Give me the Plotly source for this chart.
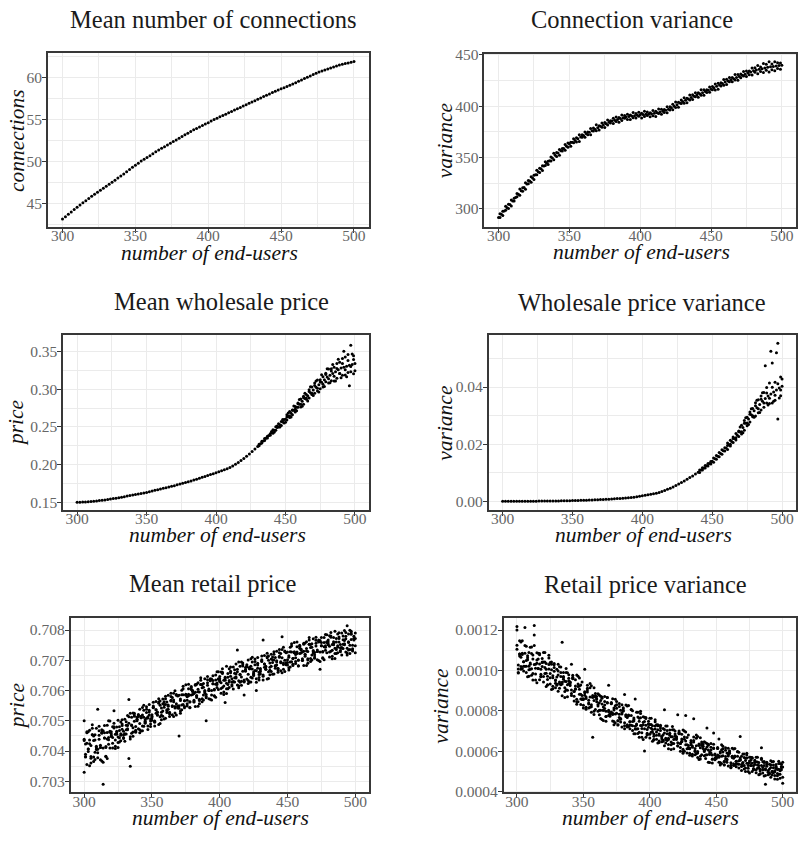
import plotly.graph_objects as go

W, H = 798, 841

# ---------------- data ----------------
x_even = list(range(300, 501, 2))      # 101 values
x_odd = list(range(301, 500, 2))       # 100 values
x_all = list(range(300, 501))          # 201 values

# Mean number of connections
conn_mean = [43.20, 43.48, 43.76, 44.04, 44.32, 44.60, 44.86, 45.12, 45.38, 45.64,
             45.90, 46.14, 46.38, 46.62, 46.86, 47.10, 47.34, 47.58, 47.82, 48.06,
             48.30, 48.56, 48.82, 49.08, 49.34, 49.60, 49.84, 50.08, 50.30, 50.52,
             50.72, 50.96, 51.18, 51.40, 51.60, 51.80, 52.00, 52.20, 52.40, 52.60,
             52.80, 53.00, 53.20, 53.40, 53.60, 53.80, 53.96, 54.12, 54.30, 54.48,
             54.65, 54.83, 55.01, 55.18, 55.34, 55.50, 55.66, 55.82, 55.98, 56.14,
             56.30, 56.46, 56.62, 56.78, 56.94, 57.10, 57.26, 57.42, 57.58, 57.74,
             57.90, 58.06, 58.22, 58.38, 58.52, 58.66, 58.80, 58.94, 59.08, 59.24,
             59.40, 59.56, 59.72, 59.88, 60.04, 60.20, 60.36, 60.52, 60.66, 60.78,
             60.90, 61.02, 61.14, 61.26, 61.38, 61.50, 61.58, 61.66, 61.74, 61.82,
             61.90]

# Connection variance
convar_mid = [291.4, 294.6, 297.8, 301.0, 304.2, 307.5, 310.8, 314.1, 317.4, 320.7,
              324.0, 327.0, 330.0, 333.0, 336.0, 339.0, 341.6, 344.2, 346.8, 349.4,
              352.0, 354.2, 356.4, 358.6, 360.8, 363.0, 364.7, 366.4, 368.1, 369.8,
              371.5, 373.0, 374.5, 376.0, 377.5, 379.0, 380.3, 381.6, 382.9, 384.2,
              385.5, 386.3, 387.1, 387.9, 388.7, 389.5, 389.9, 390.3, 390.7, 391.1,
              391.5, 391.8, 392.1, 392.4, 392.7, 393.0, 393.6, 394.3, 395.1, 396.0,
              397.0, 398.4, 399.9, 401.4, 403.0, 404.5, 405.8, 407.1, 408.4, 409.7,
              411.0, 412.1, 413.2, 414.3, 415.4, 416.5, 417.9, 419.3, 420.7, 422.1,
              423.5, 424.6, 425.7, 426.8, 427.9, 429.0, 430.1, 431.2, 432.3, 433.4,
              434.5, 435.2, 435.9, 436.6, 437.3, 438.0, 438.4, 438.8, 439.2, 439.6,
              440.0]
convar_hi = [295.1, 297.4, 302.4, 304.3, 308.5, 310.1, 314.8, 319.1, 320.5, 325.2,
             327.4, 331.2, 332.6, 337.6, 339.5, 341.8, 345.8, 346.3, 350.5, 354.1,
             354.7, 357.8, 358.8, 362.7, 364.1, 364.9, 368.3, 369.1, 372.2, 372.1,
             374.7, 374.9, 378.2, 378.8, 381.8, 381.0, 383.6, 384.0, 386.6, 385.8,
             388.1, 389.5, 389.0, 391.4, 391.0, 392.2, 391.3, 393.8, 392.9, 394.0,
             393.1, 395.0, 394.4, 393.6, 395.7, 395.0, 397.2, 397.0, 396.8, 399.4,
             399.5, 401.8, 404.1, 403.7, 406.0, 408.1, 407.8, 410.9, 411.1, 413.0,
             413.2, 416.0, 416.0, 416.0, 418.8, 419.1, 421.6, 422.4, 422.8, 426.0,
             426.2, 427.9, 427.9, 430.8, 430.8, 431.4, 433.7, 434.3, 434.4, 437.3,
             437.5, 439.7, 438.3, 441.6, 440.8, 443.4, 441.0, 443.4, 442.4, 442.0]
convar_lo = [291.4, 293.3, 298.4, 300.2, 302.7, 307.4, 311.7, 313.1, 317.1, 319.0,
             324.2, 325.9, 328.5, 333.0, 335.3, 337.2, 342.0, 343.0, 346.4, 347.8,
             351.0, 352.0, 356.3, 357.1, 360.0, 360.9, 364.2, 365.0, 365.5, 369.6,
             369.6, 372.0, 372.1, 375.8, 375.9, 376.8, 379.5, 379.2, 381.6, 383.6,
             383.1, 385.1, 384.2, 386.1, 388.1, 387.1, 387.1, 388.8, 388.4, 390.1,
             388.5, 390.0, 390.9, 389.7, 390.7, 389.9, 392.9, 392.1, 393.7, 393.5,
             396.2, 396.5, 398.6, 398.9, 402.5, 402.8, 403.4, 406.0, 406.5, 409.2,
             408.7, 410.7, 410.6, 413.3, 413.5, 416.1, 415.8, 416.6, 419.7, 420.5,
             421.1, 423.8, 423.7, 425.5, 425.3, 427.6, 429.4, 428.9, 430.7, 430.5,
             433.1, 431.7, 433.9, 432.8, 435.0, 433.4, 435.5, 434.5, 436.8, 436.1]

# Mean wholesale price
ws_mean = [0.1500, 0.1501, 0.1502, 0.1504, 0.1507, 0.1510, 0.1513, 0.1517, 0.1521, 0.1525,
           0.1530, 0.1536, 0.1542, 0.1548, 0.1554, 0.1560, 0.1567, 0.1574, 0.1581, 0.1588,
           0.1595, 0.1602, 0.1609, 0.1616, 0.1623, 0.1630, 0.1639, 0.1648, 0.1657, 0.1666,
           0.1675, 0.1684, 0.1693, 0.1702, 0.1711, 0.1720, 0.1730, 0.1740, 0.1750, 0.1760,
           0.1770, 0.1782, 0.1794, 0.1806, 0.1818, 0.1830, 0.1842, 0.1854, 0.1866, 0.1878,
           0.1890, 0.1903, 0.1916, 0.1930, 0.1944, 0.1960, 0.1980, 0.2002, 0.2026, 0.2052,
           0.2080, 0.2110, 0.2141, 0.2173, 0.2206, 0.2240, 0.2276, 0.2312, 0.2348, 0.2384,
           0.2420, 0.2456, 0.2492, 0.2528, 0.2564, 0.2600, 0.2640, 0.2680, 0.2720, 0.2760,
           0.2800, 0.2838, 0.2876, 0.2914, 0.2952, 0.2990, 0.3024, 0.3058, 0.3092, 0.3126,
           0.3160, 0.3184, 0.3208, 0.3232, 0.3256, 0.3280, 0.3292, 0.3304, 0.3316, 0.3328,
           0.3340]
ws_odd_x = list(range(431, 500, 2))    # 35 values
ws_rep1 = [0.2270, 0.2286, 0.2345, 0.2353, 0.2408, 0.2463, 0.2456, 0.2540, 0.2519, 0.2596,
           0.2660, 0.2625, 0.2722, 0.2696, 0.2818, 0.2764, 0.2905, 0.2865, 0.2993, 0.2929,
           0.3082, 0.2977, 0.3125, 0.3029, 0.3211, 0.3267, 0.3111, 0.3290, 0.3144, 0.3356,
           0.3406, 0.3188, 0.3460, 0.3232, 0.3444]
ws_rep2 = [0.2248, 0.2308, 0.2318, 0.2375, 0.2387, 0.2416, 0.2502, 0.2498, 0.2570, 0.2552,
           0.2590, 0.2702, 0.2660, 0.2770, 0.2760, 0.2869, 0.2799, 0.2930, 0.2883, 0.3029,
           0.2947, 0.3121, 0.3005, 0.3164, 0.3098, 0.3082, 0.3271, 0.3110, 0.3340, 0.3208,
           0.3186, 0.3428, 0.3220, 0.3582, 0.3204]
ws_even_x = list(range(440, 501, 2))   # 31 values
ws_rep3 = [0.2438, 0.2431, 0.2512, 0.2498, 0.2599, 0.2562, 0.2685, 0.2630, 0.2775, 0.2712,
           0.2862, 0.2773, 0.2946, 0.2842, 0.3032, 0.2915, 0.3109, 0.2963, 0.3192, 0.3036,
           0.3270, 0.3084, 0.3328, 0.3107, 0.3396, 0.3150, 0.3502, 0.3164, 0.3046, 0.3468,
           0.3245]
ws_odd_x2 = list(range(451, 500, 2))   # 25 values
ws_rep4 = [0.2630, 0.2645, 0.2720, 0.2732, 0.2805, 0.2799, 0.2887, 0.2883, 0.2968, 0.2946,
           0.3047, 0.3011, 0.3095, 0.3064, 0.3193, 0.3137, 0.3241, 0.3170, 0.3274, 0.3208,
           0.3341, 0.3258, 0.3380, 0.3302, 0.3394]

# Wholesale price variance, in units of 1e-5
wv_mean_e5 = [0, 0, 1, 1, 1, 2, 2, 3, 3, 4,
              5, 5, 6, 7, 8, 9, 10, 11, 12, 14,
              15, 17, 19, 21, 23, 25, 28, 31, 34, 37,
              40, 44, 48, 52, 56, 60, 65, 70, 76, 82,
              88, 95, 102, 110, 118, 126, 135, 145, 160, 175,
              195, 210, 228, 245, 262, 280, 310, 345, 380, 420,
              460, 505, 555, 605, 655, 710, 770, 830, 890, 955,
              1020, 1095, 1170, 1245, 1320, 1400, 1490, 1580, 1675, 1770,
              1870, 1980, 2090, 2200, 2315, 2430, 2580, 2730, 2880, 3030,
              3170, 3280, 3390, 3500, 3600, 3690, 3760, 3830, 3900, 3970,
              4030]
wv_odd_x = list(range(441, 500, 2))    # 30 values
wv_rep1_e5 = [1098, 1098, 1258, 1238, 1390, 1515, 1475, 1708, 1648, 1875,
              1815, 2135, 2055, 2378, 2273, 2665, 2485, 2945, 2775, 3250,
              2985, 3555, 3195, 3810, 3445, 4145, 3445, 4165, 5535, 3700]
wv_rep2_e5 = [1013, 1178, 1168, 1323, 1310, 1370, 1600, 1558, 1803, 1760,
              2040, 1940, 2255, 2143, 2463, 2355, 2830, 2645, 3125, 2960,
              3455, 3105, 3685, 3290, 3985, 3425, 4845, 3535, 2885, 4350]
wv_even_x = list(range(470, 501, 2))   # 16 values
wv_rep3_e5 = [2600, 2400, 2930, 2690, 3240, 2940, 3540, 3110, 3800, 4750,
              3370, 5250, 3500, 5200, 3620, 4280]
wv_odd_x2 = list(range(461, 500, 2))   # 20 values
wv_rep4_e5 = [1955, 1995, 2195, 2223, 2433, 2435, 2735, 2745, 3045, 3000,
              3345, 3245, 3575, 3440, 3795, 3605, 3995, 3715, 4115, 3900]

# Mean retail price: (price - 0.7) in units of 1e-5, four runs per x = 300..500
rp_r1 = [435, 380, 464, 407, 424, 360, 454, 435, 396, 475,
         378, 452, 419, 470, 410, 443, 382, 461, 500, 410,
         448, 480, 533, 408, 479, 446, 468, 434, 484, 465,
         455, 470, 517, 492, 447, 512, 463, 525, 481, 504,
         521, 460, 510, 483, 551, 503, 527, 483, 519, 506,
         515, 545, 499, 564, 529, 488, 565, 542, 515, 554,
         581, 533, 548, 514, 568, 577, 514, 547, 587, 542,
         541, 572, 601, 554, 543, 585, 579, 621, 544, 603,
         597, 562, 620, 583, 596, 556, 620, 609, 585, 639,
         576, 626, 605, 639, 600, 622, 582, 635, 662, 603,
         630, 661, 610, 587, 560, 624, 644, 610, 659, 639,
         628, 642, 688, 662, 616, 680, 631, 691, 585, 668,
         685, 623, 672, 644, 710, 661, 685, 639, 674, 660,
         668, 698, 651, 716, 680, 638, 714, 691, 663, 702,
         728, 680, 694, 660, 713, 722, 659, 691, 731, 685,
         684, 715, 743, 695, 683, 725, 719, 760, 682, 740,
         734, 699, 756, 719, 731, 690, 753, 742, 717, 771,
         707, 756, 734, 767, 727, 748, 707, 759, 785, 725,
         751, 781, 730, 705, 775, 740, 760, 725, 772, 752,
         740, 753, 798, 771, 724, 787, 736, 796, 750, 771,
         790]
rp_r2 = [439, 423, 355, 398, 469, 376, 454, 365, 436, 405,
         538, 482, 412, 459, 363, 443, 412, 485, 437, 462,
         451, 426, 476, 416, 455, 502, 430, 457, 489, 454,
         432, 485, 474, 513, 350, 459, 526, 498, 462, 512,
         517, 491, 466, 519, 535, 498, 508, 471, 554, 499,
         510, 549, 495, 536, 527, 573, 513, 528, 556, 506,
         573, 527, 552, 522, 565, 547, 591, 542, 519, 582,
         450, 532, 586, 614, 547, 585, 568, 606, 562, 585,
         600, 590, 547, 577, 626, 567, 620, 563, 611, 593,
         580, 646, 600, 632, 569, 622, 602, 651, 620, 637,
         633, 607, 656, 595, 634, 680, 606, 633, 664, 628,
         605, 657, 645, 734, 632, 627, 694, 664, 628, 676,
         681, 654, 628, 680, 694, 656, 666, 627, 709, 653,
         663, 702, 647, 688, 678, 723, 662, 677, 704, 654,
         720, 674, 698, 668, 710, 692, 736, 686, 663, 725,
         702, 675, 728, 755, 687, 725, 708, 745, 700, 722,
         737, 727, 683, 713, 761, 701, 753, 696, 743, 725,
         711, 776, 729, 760, 696, 748, 727, 775, 743, 759,
         754, 727, 776, 713, 751, 796, 722, 748, 777, 741,
         717, 768, 755, 792, 740, 734, 799, 769, 731, 779,
         725]
rp_r3 = [330, 382, 426, 464, 351, 418, 475, 380, 454, 411,
         394, 467, 412, 367, 467, 460, 383, 440, 422, 499,
         464, 410, 492, 455, 465, 428, 444, 496, 472, 445,
         505, 456, 484, 570, 440, 486, 477, 519, 465, 505,
         474, 538, 515, 467, 512, 495, 538, 509, 535, 489,
         520, 543, 498, 536, 519, 558, 491, 518, 572, 545,
         554, 536, 584, 527, 580, 520, 569, 599, 556, 546,
         550, 567, 536, 586, 566, 619, 556, 588, 543, 609,
         598, 563, 594, 621, 548, 595, 634, 573, 623, 597,
         587, 636, 600, 571, 638, 633, 583, 621, 610, 662,
         646, 591, 672, 634, 644, 606, 620, 672, 647, 619,
         678, 628, 655, 670, 609, 654, 645, 685, 631, 669,
         638, 701, 677, 628, 671, 653, 696, 665, 690, 643,
         673, 696, 767, 688, 670, 708, 640, 667, 720, 693,
         701, 683, 730, 673, 725, 665, 778, 743, 700, 689,
         693, 710, 678, 727, 706, 759, 696, 727, 681, 746,
         735, 700, 730, 757, 683, 729, 767, 706, 755, 729,
         718, 766, 729, 699, 765, 759, 708, 745, 733, 784,
         767, 711, 792, 752, 761, 722, 736, 787, 760, 732,
         790, 739, 765, 779, 717, 761, 750, 790, 734, 772,
         772]
rp_r4 = [500, 389, 460, 407, 436, 382, 487, 450, 372, 416,
         406, 439, 371, 462, 290, 484, 415, 375, 445, 465,
         457, 445, 480, 436, 460, 412, 480, 452, 503, 441,
         457, 497, 470, 375, 525, 484, 449, 515, 469, 500,
         514, 470, 510, 544, 482, 492, 546, 513, 529, 481,
         502, 561, 483, 525, 519, 562, 551, 503, 532, 563,
         508, 562, 538, 527, 591, 550, 563, 526, 584, 549,
         584, 525, 552, 606, 566, 588, 549, 583, 563, 613,
         587, 568, 617, 583, 604, 571, 642, 619, 569, 600,
         500, 617, 573, 634, 585, 649, 604, 578, 625, 639,
         639, 626, 660, 615, 639, 590, 656, 628, 678, 615,
         630, 669, 641, 618, 694, 652, 617, 681, 635, 664,
         678, 633, 672, 705, 641, 650, 704, 600, 684, 635,
         655, 714, 635, 677, 670, 712, 700, 652, 680, 711,
         655, 709, 684, 673, 736, 695, 708, 670, 728, 692,
         727, 668, 694, 747, 706, 728, 689, 722, 701, 750,
         724, 705, 753, 719, 739, 705, 775, 752, 701, 732,
         726, 747, 702, 762, 670, 775, 729, 702, 748, 761,
         760, 746, 780, 733, 756, 706, 772, 743, 791, 728,
         742, 780, 751, 727, 814, 759, 722, 786, 738, 767,
         748]
RP_BASE, RP_UNIT = 0.7, 1e-5

# Retail price variance, in units of 1e-6, four runs per x = 300..500
rv_r1 = [1218, 987, 1081, 1019, 1147, 1043, 1085, 989, 1053, 1021,
         1031, 1084, 984, 1175, 1030, 939, 1085, 1032, 971, 1041,
         1088, 984, 1006, 929, 1029, 1039, 905, 963, 1034, 936,
         933, 977, 1018, 929, 1140, 965, 946, 1009, 869, 961,
         942, 875, 966, 895, 909, 832, 933, 906, 858, 942,
         827, 1005, 861, 912, 838, 868, 793, 876, 914, 806,
         844, 884, 802, 761, 862, 803, 828, 771, 838, 803,
         779, 794, 859, 813, 739, 830, 750, 836, 762, 790,
         809, 880, 779, 731, 826, 746, 776, 702, 749, 723,
         729, 769, 693, 786, 727, 658, 768, 728, 682, 735,
         763, 693, 707, 657, 724, 730, 640, 678, 728, 661,
         654, 690, 724, 653, 633, 685, 671, 722, 611, 685,
         671, 780, 692, 637, 649, 589, 670, 650, 612, 680,
         589, 652, 619, 760, 602, 627, 568, 635, 666, 582,
         613, 646, 581, 715, 629, 584, 605, 559, 613, 586,
         568, 580, 660, 597, 538, 611, 548, 616, 559, 581,
         597, 518, 574, 537, 613, 550, 574, 516, 554, 534,
         541, 568, 516, 581, 540, 492, 569, 540, 509, 546,
         570, 515, 528, 488, 617, 547, 477, 508, 545, 495,
         490, 519, 547, 493, 479, 520, 509, 550, 465, 524,
         470]
rv_r2 = [1200, 1007, 1081, 1141, 1009, 1021, 1123, 1049, 1073, 971,
         1005, 1116, 952, 1029, 1010, 1087, 1057, 954, 1005, 1059,
         942, 1042, 986, 955, 1075, 985, 1003, 921, 1028, 950,
         1006, 897, 934, 1017, 941, 970, 895, 945, 901, 978,
         925, 886, 961, 895, 923, 857, 971, 923, 831, 875,
         859, 889, 807, 903, 813, 914, 830, 668, 851, 868,
         858, 831, 878, 803, 833, 752, 846, 798, 866, 926,
         782, 835, 788, 747, 857, 788, 729, 821, 744, 784,
         799, 725, 779, 823, 722, 729, 805, 747, 764, 686,
         710, 793, 669, 727, 712, 770, 747, 669, 707, 748,
         665, 732, 694, 674, 755, 694, 706, 650, 724, 671,
         712, 627, 658, 724, 664, 689, 631, 671, 637, 699,
         658, 627, 688, 637, 660, 609, 699, 776, 590, 628,
         615, 640, 576, 653, 582, 664, 598, 558, 616, 630,
         624, 604, 641, 582, 606, 543, 619, 581, 690, 557,
         570, 613, 576, 544, 632, 577, 531, 604, 545, 576,
         589, 530, 574, 610, 530, 537, 597, 552, 566, 504,
         527, 585, 499, 540, 529, 569, 554, 499, 527, 555,
         493, 546, 518, 502, 565, 519, 528, 436, 542, 502,
         535, 470, 495, 548, 503, 523, 478, 510, 485, 535,
         521]
rv_r3 = [1125, 1027, 1071, 1005, 1085, 1043, 1212, 1021, 969, 1089,
         1037, 976, 1076, 1123, 982, 1051, 1009, 1078, 981, 1019,
         1042, 1014, 920, 971, 1061, 933, 1031, 909, 996, 952,
         926, 1030, 943, 990, 874, 956, 914, 989, 929, 949,
         934, 1030, 959, 848, 906, 977, 845, 882, 928, 860,
         813, 894, 868, 926, 833, 817, 924, 867, 798, 874,
         871, 823, 780, 851, 868, 803, 811, 748, 865, 776,
         784, 837, 749, 804, 784, 846, 750, 766, 802, 720,
         815, 740, 772, 720, 779, 746, 806, 726, 686, 858,
         734, 687, 763, 798, 691, 743, 711, 762, 689, 718,
         732, 713, 649, 685, 746, 659, 725, 642, 702, 672,
         649, 805, 664, 702, 611, 678, 645, 706, 658, 676,
         664, 625, 686, 599, 646, 704, 599, 631, 667, 615,
         579, 644, 625, 670, 598, 587, 672, 629, 574, 636,
         634, 598, 563, 620, 634, 584, 591, 541, 634, 564,
         572, 614, 545, 590, 574, 624, 548, 561, 590, 526,
         602, 542, 568, 529, 576, 550, 598, 535, 672, 575,
         544, 511, 564, 589, 515, 551, 529, 564, 514, 534,
         546, 531, 483, 510, 558, 492, 543, 479, 525, 503,
         486, 552, 500, 531, 462, 514, 489, 538, 502, 517,
         440]
rv_r4 = [1105, 989, 1147, 1065, 1079, 997, 1021, 1119, 1063, 1003,
         1115, 1008, 1056, 1222, 952, 1035, 1009, 1084, 969, 1039,
         970, 1088, 1034, 927, 1007, 963, 1041, 973, 1014, 914,
         967, 997, 912, 970, 932, 989, 866, 904, 988, 934,
         941, 903, 976, 872, 953, 844, 920, 962, 882, 856,
         856, 877, 817, 893, 852, 935, 820, 867, 781, 886,
         858, 798, 839, 872, 756, 818, 870, 772, 841, 795,
         773, 841, 781, 730, 825, 812, 730, 782, 758, 830,
         800, 711, 829, 766, 775, 711, 728, 800, 757, 710,
         793, 711, 748, 765, 669, 731, 601, 767, 680, 733,
         684, 763, 726, 655, 709, 679, 731, 685, 714, 646,
         681, 707, 640, 686, 657, 704, 608, 638, 706, 663,
         670, 641, 700, 618, 684, 598, 659, 695, 631, 613,
         612, 631, 584, 645, 613, 680, 590, 629, 561, 645,
         624, 577, 610, 637, 545, 596, 638, 561, 615, 580,
         563, 618, 570, 531, 607, 596, 532, 573, 556, 614,
         590, 520, 614, 565, 572, 522, 536, 594, 560, 524,
         585, 528, 553, 566, 499, 542, 529, 568, 508, 545,
         508, 570, 543, 487, 529, 507, 548, 513, 535, 483,
         511, 532, 482, 518, 497, 534, 460, 485, 539, 507,
         545]
RV_UNIT = 1e-6

# Tick labels / breaks
x_ticks = [300, 350, 400, 450, 500]
x_minor = [325, 375, 425, 475]
conn_ticks = [45, 50, 55, 60]
conn_minor = [42.5, 47.5, 52.5, 57.5, 62.5]
convar_ticks = [300, 350, 400, 450]
convar_minor = [325, 375, 425]
ws_ticks = [0.15, 0.20, 0.25, 0.30, 0.35]
ws_labels = ["0.15", "0.20", "0.25", "0.30", "0.35"]
ws_minor = [0.175, 0.225, 0.275, 0.325]
wv_ticks = [0.00, 0.02, 0.04]
wv_labels = ["0.00", "0.02", "0.04"]
wv_minor = [0.01, 0.03, 0.05]
rp_ticks = [0.703, 0.704, 0.705, 0.706, 0.707, 0.708]
rp_labels = ["0.703", "0.704", "0.705", "0.706", "0.707", "0.708"]
rp_minor = [0.7035, 0.7045, 0.7055, 0.7065, 0.7075]
rv_ticks = [0.0004, 0.0006, 0.0008, 0.0010, 0.0012]
rv_labels = ["0.0004", "0.0006", "0.0008", "0.0010", "0.0012"]
rv_minor = [0.0005, 0.0007, 0.0009, 0.0011]

# ---------------- figure ----------------
FONT = "Liberation Serif, DejaVu Serif, serif"


def fx(p):
    return p / W


def fy(p):
    return 1 - p / H


series = {
    1: [(x_even, conn_mean)],
    2: [(x_even, convar_mid), (x_odd, convar_hi), (x_odd, convar_lo)],
    3: [(x_even, ws_mean), (ws_odd_x, ws_rep1), (ws_odd_x, ws_rep2), (ws_even_x, ws_rep3),
        (ws_odd_x2, ws_rep4)],
    4: [(x_even, [v * 1e-5 for v in wv_mean_e5]),
        (wv_odd_x, [v * 1e-5 for v in wv_rep1_e5]),
        (wv_odd_x, [v * 1e-5 for v in wv_rep2_e5]),
        (wv_even_x, [v * 1e-5 for v in wv_rep3_e5]),
        (wv_odd_x2, [v * 1e-5 for v in wv_rep4_e5])],
    5: [(x_all, [RP_BASE + v * RP_UNIT for v in r]) for r in (rp_r1, rp_r2, rp_r3, rp_r4)],
    6: [(x_all, [v * RV_UNIT for v in r]) for r in (rv_r1, rv_r2, rv_r3, rv_r4)],
}

panels = {
    1: dict(dx=(48, 369), dy=(46, 223), yr=(42.25, 62.9), yt=conn_ticks, yl=[str(v) for v in conn_ticks],
            ym=conn_minor, title="Mean number of connections", tpos=(213, 11.5),
            ytitle="connections", ytpos=17),
    2: dict(dx=(485, 797), dy=(46.7, 222.7), yr=(282.4, 451.0), yt=convar_ticks, yl=[str(v) for v in convar_ticks],
            ym=convar_minor, title="Connection variance", tpos=(633, 12),
            ytitle="variance", ytpos=445.5),
    3: dict(dx=(63.3, 369.3), dy=(333.3, 511), yr=(0.1398, 0.3714), yt=ws_ticks, yl=ws_labels,
            ym=ws_minor, title="Mean wholesale price", tpos=(222, 299),
            ytitle="price", ytpos=15.5),
    4: dict(dx=(489.3, 797), dy=(333.3, 511), yr=(-0.0030, 0.0581), yt=wv_ticks, yl=wv_labels,
            ym=wv_minor, title="Wholesale price variance", tpos=(643, 299.5),
            ytitle="variance", ytpos=444.7),
    5: dict(dx=(70.7, 369.3), dy=(621, 798.7), yr=(0.70263, 0.70840), yt=rp_ticks, yl=rp_labels,
            ym=rp_minor, title="Mean retail price", tpos=(213, 586),
            ytitle="price", ytpos=17),
    6: dict(dx=(504.3, 797), dy=(621, 798.7), yr=(0.000395, 0.00126), yt=rv_ticks, yl=rv_labels,
            ym=rv_minor, title="Retail price variance", tpos=(646, 587),
            ytitle="variance", ytpos=442),
}

fig = go.Figure()
annotations = []
layout = {}

GRID = "#EBEBEB"
FRAME = "#383838"
TICKTXT = "#666666"

for i, p in panels.items():
    sfx = "" if i == 1 else str(i)
    xa, ya = "x" + sfx, "y" + sfx
    for xs, ys in series[i]:
        fig.add_trace(go.Scatter(x=xs, y=ys, mode="markers", xaxis=xa, yaxis=ya,
                                 marker=dict(size=3, color="black", line=dict(width=0)),
                                 hoverinfo="skip", showlegend=False))
    common = dict(showline=True, mirror=True, linecolor=FRAME, linewidth=1.6,
                  ticks="outside", ticklen=4, tickwidth=1, tickcolor=FRAME,
                  showgrid=True, gridcolor=GRID, gridwidth=1.4, zeroline=False,
                  tickfont=dict(family=FONT, size=15.5, color=TICKTXT))
    layout["xaxis" + sfx] = dict(common, domain=[fx(p["dx"][0]), fx(p["dx"][1])], anchor=ya,
                                 range=[290, 510], tickmode="array", tickvals=x_ticks,
                                 ticktext=[str(v) for v in x_ticks], ticklabelstandoff=-10,
                                 minor=dict(tickvals=x_minor, showgrid=True, gridcolor=GRID, gridwidth=0.7))
    layout["yaxis" + sfx] = dict(common, domain=[fy(p["dy"][1]), fy(p["dy"][0])], anchor=xa,
                                 range=list(p["yr"]), tickmode="array", tickvals=p["yt"], ticktext=p["yl"],
                                 ticklabelstandoff=-3,
                                 minor=dict(tickvals=p["ym"], showgrid=True, gridcolor=GRID, gridwidth=0.7))
    # title
    annotations.append(dict(text=p["title"], x=fx(p["tpos"][0]), y=fy(p["tpos"][1]), xref="paper", yref="paper",
                            xanchor="center", yanchor="middle", showarrow=False,
                            font=dict(family=FONT, size=24.5, color="#1a1a1a")))
    # x title
    cx = (p["dx"][0] + p["dx"][1]) / 2 + 1
    cy_x = p["dy"][1] + 26
    annotations.append(dict(text="<i>number of end-users</i>", x=fx(cx), y=fy(cy_x), xref="paper", yref="paper",
                            xanchor="center", yanchor="middle", showarrow=False,
                            font=dict(family=FONT, size=21.5, color="#111111")))
    # y title
    cy = (p["dy"][0] + p["dy"][1]) / 2
    annotations.append(dict(text="<i>%s</i>" % p["ytitle"], x=fx(p["ytpos"]), y=fy(cy), xref="paper", yref="paper",
                            xanchor="center", yanchor="middle", textangle=-90, showarrow=False,
                            font=dict(family=FONT, size=21.5, color="#111111")))

fig.update_layout(width=W, height=H, margin=dict(l=0, r=0, t=0, b=0),
                  paper_bgcolor="white", plot_bgcolor="white", showlegend=False,
                  annotations=annotations, **layout)

# pin the figure to the page's top-left corner (no default body margin)
pin_js = ("document.body.style.margin='0px';"
          "var d=document.getElementById('{plot_id}');"
          "d.style.position='absolute';d.style.left='0px';d.style.top='0px';")
fig.write_html("out.html", post_script=pin_js, config={"displayModeBar": False})
